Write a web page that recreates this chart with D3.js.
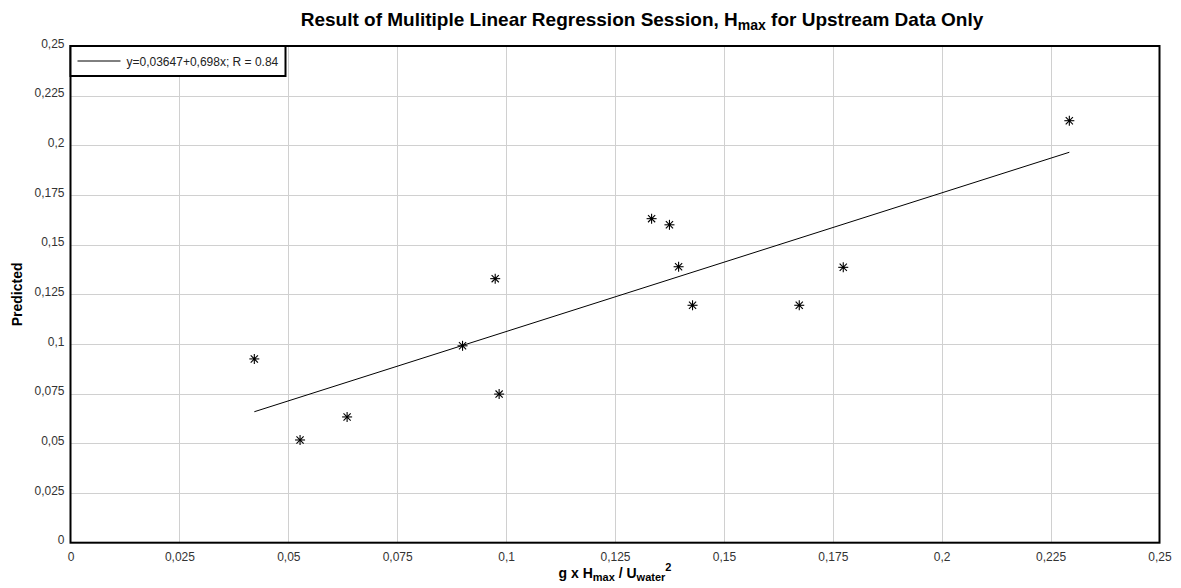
<!DOCTYPE html>
<html>
<head>
<meta charset="utf-8">
<script src="https://cdn.jsdelivr.net/npm/d3@7"></script>
<style>
  body { margin: 0; background: #fff; }
  text { font-family: "Liberation Sans", Arial, sans-serif; }
</style>
</head>
<body>
<svg id="chart" width="1181" height="588"></svg>
<script>
const obsX  = [0.0422, 0.0527, 0.0635, 0.0900, 0.0975, 0.0984, 0.1334, 0.1375, 0.1396, 0.1428, 0.1673, 0.1774, 0.2293];
const predY = [0.0925, 0.0517, 0.0633, 0.0991, 0.1329, 0.0748, 0.1631, 0.1600, 0.1389, 0.1195, 0.1195, 0.1386, 0.2124];

// regression line y = a + b x
const fitA = 0.03647;
const fitB = 0.698;
const legendText = "y=0,03647+0,698x; R = 0.84";

const xTicks = [0, 0.025, 0.05, 0.075, 0.1, 0.125, 0.15, 0.175, 0.2, 0.225, 0.25];
const yTicks = [0, 0.025, 0.05, 0.075, 0.1, 0.125, 0.15, 0.175, 0.2, 0.225, 0.25];

let svgWidth = 1181;
let svgHeight = 588;
let margin = {left: 70.5, right: 21.5, top: 46, bottom: 45.3};

let svg = d3.select("#chart");

let locale = d3.formatLocale({decimal: ",", thousands: ".", grouping: [3], currency: ["", ""]});
let fmt = locale.format("~r");

let xMap = d3.scaleLinear()
    .domain([0, 0.25])
    .range([margin.left, svgWidth - margin.right]);
let yMap = d3.scaleLinear()
    .domain([0, 0.25])
    .range([svgHeight - margin.bottom, margin.top]);

// grid
let grid = svg.append("g").attr("id", "grid");
grid.selectAll("line.vx").data(xTicks.slice(1, -1)).enter().append("line")
    .attr("x1", d => Math.round(xMap(d)) + 0.5).attr("x2", d => Math.round(xMap(d)) + 0.5)
    .attr("y1", yMap(0.25)).attr("y2", yMap(0))
    .attr("stroke", "#d0d0d0");
grid.selectAll("line.hy").data(yTicks.slice(1, -1)).enter().append("line")
    .attr("y1", d => Math.round(yMap(d)) + 0.5).attr("y2", d => Math.round(yMap(d)) + 0.5)
    .attr("x1", xMap(0)).attr("x2", xMap(0.25))
    .attr("stroke", "#d0d0d0");

// axes (labels only, no tick marks)
let xAxis = d3.axisBottom(xMap).tickValues(xTicks).tickFormat(fmt).tickSize(0).tickPadding(10);
let yAxis = d3.axisLeft(yMap).tickValues(yTicks).tickFormat(fmt).tickSize(0).tickPadding(6);

let gx = svg.append("g").attr("transform", `translate(0,${yMap(0)})`).call(xAxis);
let gy = svg.append("g").attr("transform", `translate(${xMap(0)},0)`).call(yAxis);
[gx, gy].forEach(g => {
    g.select(".domain").remove();
    g.selectAll("text")
        .style("font-family", "'Liberation Sans', Arial, sans-serif")
        .style("font-size", "12px")
        .attr("fill", "#333");
});
gy.selectAll("text").attr("dy", "0.1em");

// regression line over observed range
let xMin = d3.min(obsX), xMax = d3.max(obsX);
svg.append("line")
    .attr("x1", xMap(xMin)).attr("y1", yMap(fitA + fitB * xMin))
    .attr("x2", xMap(xMax)).attr("y2", yMap(fitA + fitB * xMax))
    .attr("stroke", "#000").attr("stroke-width", 1);

// asterisk markers
let pts = obsX.map((x, i) => ({x: x, y: predY[i]}));
let r = 5;
let star = svg.append("g").selectAll("g").data(pts).enter().append("g")
    .attr("transform", d => `translate(${xMap(d.x)},${yMap(d.y)})`)
    .attr("stroke", "#000").attr("stroke-width", 1.1);
[[-r, 0, r, 0], [0, -r, 0, r], [-r * 0.72, -r * 0.72, r * 0.72, r * 0.72], [-r * 0.72, r * 0.72, r * 0.72, -r * 0.72]]
    .forEach(s => {
        star.append("line").attr("x1", s[0]).attr("y1", s[1]).attr("x2", s[2]).attr("y2", s[3]);
    });
star.append("circle").attr("r", 1.3).attr("fill", "#000").attr("stroke", "none");

// plot frame
svg.append("rect")
    .attr("x", xMap(0)).attr("y", yMap(0.25))
    .attr("width", xMap(0.25) - xMap(0)).attr("height", yMap(0) - yMap(0.25))
    .attr("fill", "none").attr("stroke", "#000").attr("stroke-width", 2);

// legend
let lg = svg.append("g").attr("transform", `translate(${xMap(0)},${yMap(0.25)})`);
lg.append("rect").attr("x", 0).attr("y", 0).attr("width", 215).attr("height", 30)
    .attr("fill", "#fff").attr("stroke", "#000").attr("stroke-width", 2);
lg.append("line").attr("x1", 7).attr("x2", 50).attr("y1", 15).attr("y2", 15)
    .attr("stroke", "#000");
lg.append("text").attr("x", 56).attr("y", 19.5)
    .style("font-size", "12px").attr("fill", "#222")
    .text(legendText);

// title
let title = svg.append("text").attr("x", 642).attr("y", 26)
    .attr("text-anchor", "middle")
    .style("font-size", "19px").style("font-weight", "bold");
title.append("tspan").text("Result of Mulitiple Linear Regression Session, H");
title.append("tspan").attr("dy", 4).style("font-size", "14px").text("max");
title.append("tspan").attr("dy", -4).text(" for Upstream Data Only");

// x label
let xl = svg.append("text").attr("x", xMap(0.125)).attr("y", 578)
    .attr("text-anchor", "middle")
    .style("font-size", "14px").style("font-weight", "bold");
xl.append("tspan").text("g x H");
xl.append("tspan").attr("dy", 3).style("font-size", "11px").text("max");
xl.append("tspan").attr("dy", -3).text(" / U");
xl.append("tspan").attr("dy", 3).style("font-size", "11px").text("water");
xl.append("tspan").attr("dy", -10).style("font-size", "11px").text("2");

// y label
svg.append("text")
    .attr("transform", `translate(22,${(yMap(0) + yMap(0.25)) / 2}) rotate(-90)`)
    .attr("text-anchor", "middle")
    .style("font-size", "14px").style("font-weight", "bold")
    .text("Predicted");
</script>
</body>
</html>
